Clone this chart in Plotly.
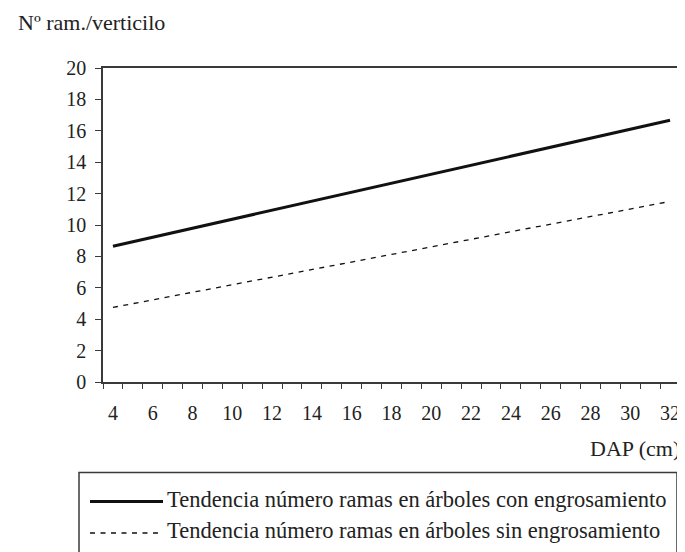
import plotly.graph_objects as go

# ---- data ----
dap_cm = [4, 32]
ramas_con_engrosamiento = [8.65, 16.67]
ramas_sin_engrosamiento = [4.75, 11.5]
x_tick_labels = [4, 6, 8, 10, 12, 14, 16, 18, 20, 22, 24, 26, 28, 30, 32]
y_tick_labels = [0, 2, 4, 6, 8, 10, 12, 14, 16, 18, 20]
x_categories = list(range(4, 33))

name_con = "Tendencia número ramas en árboles con engrosamiento"
name_sin = "Tendencia número ramas en árboles sin engrosamiento"

FONT = "Liberation Serif"
AX = "#3a3a3a"
TXT = "#222222"

OFF = 8  # page body margin offset
W, H = 685 - OFF, 552 - OFF
L, R, T, B = 95, 5, 60, 170
pw, ph = W - L - R, H - T - B


def px(x):
    return (x - OFF - L) / pw


def py(y):
    return (H - B - (y - OFF)) / ph


fig = go.Figure()
fig.add_trace(go.Scatter(x=dap_cm, y=ramas_con_engrosamiento, mode="lines",
                         line=dict(color="#111111", width=3), name=name_con,
                         showlegend=False))
fig.add_trace(go.Scatter(x=dap_cm, y=ramas_sin_engrosamiento, mode="lines",
                         line=dict(color="#111111", width=1.3, dash="5px,5.5px"),
                         name=name_sin, showlegend=False))

boundaries = [c - 0.5 for c in x_categories] + [x_categories[-1] + 0.5]

fig.update_xaxes(range=[x_categories[0] - 0.5, x_categories[-1] + 0.5],
                 tickmode="array", tickvals=x_tick_labels,
                 ticktext=[str(v) for v in x_tick_labels],
                 ticks="outside", ticklen=5, tickcolor="rgba(0,0,0,0)",
                 minor=dict(tickmode="array", tickvals=boundaries, ticks="outside",
                            ticklen=5, tickwidth=1.3, tickcolor=AX, showgrid=False),
                 showline=True, linecolor=AX, linewidth=1.5, mirror=True,
                 showgrid=False, zeroline=False, ticklabelstandoff=7,
                 tickfont=dict(family=FONT, size=20, color=TXT))
fig.update_yaxes(range=[0, 20], tickmode="array", tickvals=y_tick_labels,
                 ticks="outside", ticklen=6, tickwidth=1.3, tickcolor=AX,
                 showline=True, linecolor=AX, linewidth=1.5, mirror=True,
                 showgrid=False, zeroline=False, ticklabelstandoff=5,
                 tickfont=dict(family=FONT, size=20, color=TXT))

shapes = [
    dict(type="rect", xref="paper", yref="paper", x0=px(79), x1=px(677),
         y0=py(600), y1=py(472.5), line=dict(color=AX, width=1.5)),
    dict(type="line", xref="paper", yref="paper", x0=px(90), x1=px(163),
         y0=py(501.5), y1=py(501.5), line=dict(color="#111", width=3)),
    dict(type="line", xref="paper", yref="paper", x0=px(90), x1=px(163),
         y0=py(533), y1=py(533), line=dict(color="#111", width=1.3, dash="5px,5.5px")),
]

annotations = [
    dict(text="Nº ram./verticilo", xref="paper", yref="paper", x=px(16), y=py(23),
         xanchor="left", yanchor="middle", showarrow=False,
         font=dict(family=FONT, size=22, color=TXT)),
    dict(text="DAP (cm)", xref="paper", yref="paper", x=px(682), y=py(448),
         xanchor="right", yanchor="middle", showarrow=False,
         font=dict(family=FONT, size=22, color=TXT)),
    dict(text=name_con, xref="paper", yref="paper", x=px(165), y=py(499),
         xanchor="left", yanchor="middle", showarrow=False,
         font=dict(family=FONT, size=22.5, color=TXT)),
    dict(text=name_sin, xref="paper", yref="paper", x=px(165), y=py(530),
         xanchor="left", yanchor="middle", showarrow=False,
         font=dict(family=FONT, size=22.5, color=TXT)),
]

fig.update_layout(width=W, height=H, margin=dict(l=L, r=R, t=T, b=B, autoexpand=False),
                  paper_bgcolor="white", plot_bgcolor="white",
                  shapes=shapes, annotations=annotations, showlegend=False)

fig.write_html("out.html")
